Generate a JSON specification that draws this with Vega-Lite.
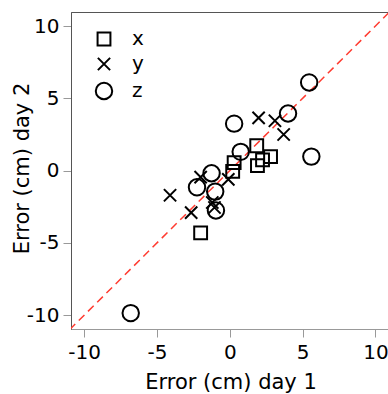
{
  "$schema": "https://vega.github.io/schema/vega-lite/v6.json",
  "autosize": {"type": "none"},
  "padding": {"left": 71, "top": 12, "right": 0, "bottom": 65},
  "width": 319,
  "height": 317,
  "background": "white",
  "config": {
    "font": "DejaVu Sans",
    "view": {"stroke": "#555", "strokeWidth": 1}
  },
  "datasets": {
    "pts": [
      {"axis": "x", "day1": 0.3, "day2": 0.55},
      {"axis": "x", "day1": 0.2, "day2": -0.05},
      {"axis": "x", "day1": 1.85, "day2": 1.72},
      {"axis": "x", "day1": 1.9, "day2": 0.35},
      {"axis": "x", "day1": 2.25, "day2": 0.75},
      {"axis": "x", "day1": 2.8, "day2": 0.97},
      {"axis": "x", "day1": -2.0, "day2": -4.3},
      {"axis": "y", "day1": 1.98, "day2": 3.65},
      {"axis": "y", "day1": 3.1, "day2": 3.45},
      {"axis": "y", "day1": 3.7, "day2": 2.5},
      {"axis": "y", "day1": -2.0, "day2": -0.45},
      {"axis": "y", "day1": -0.1, "day2": -0.6},
      {"axis": "y", "day1": -4.1, "day2": -1.7},
      {"axis": "y", "day1": -2.65, "day2": -2.9},
      {"axis": "y", "day1": -1.2, "day2": -2.2},
      {"axis": "y", "day1": -1.05, "day2": -2.55},
      {"axis": "z", "day1": 5.45, "day2": 6.1},
      {"axis": "z", "day1": 4.0, "day2": 3.95},
      {"axis": "z", "day1": 0.3, "day2": 3.25},
      {"axis": "z", "day1": 5.6, "day2": 0.97},
      {"axis": "z", "day1": 0.75, "day2": 1.3},
      {"axis": "z", "day1": -1.25, "day2": -0.18},
      {"axis": "z", "day1": -2.25, "day2": -1.15},
      {"axis": "z", "day1": -1.0, "day2": -1.45},
      {"axis": "z", "day1": -0.95, "day2": -2.75},
      {"axis": "z", "day1": -6.8, "day2": -9.85}
    ],
    "diag": [
      {"day1": -11, "day2": -11},
      {"day1": 11, "day2": 11}
    ]
  },
  "layer": [
    {
      "data": {"name": "diag"},
      "mark": {"type": "line", "color": "#ff3b30", "strokeWidth": 1.5, "strokeDash": [8, 5], "clip": true},
      "encoding": {
        "x": {"field": "day1", "type": "quantitative"},
        "y": {"field": "day2", "type": "quantitative"}
      }
    },
    {
      "data": {"name": "pts"},
      "mark": {"type": "point", "filled": false, "color": "black", "strokeWidth": 2, "opacity": 1},
      "encoding": {
        "x": {
          "field": "day1", "type": "quantitative",
          "scale": {"domain": [-10.9, 11], "nice": false, "zero": false},
          "axis": {
            "title": "Error (cm) day 1",
            "values": [-10, -5, 0, 5, 10],
            "labelExpr": "datum.value < 0 ? '-' + abs(datum.value) : '' + datum.value",
            "grid": false,
            "domainColor": "#999",
            "tickColor": "#999",
            "tickSize": 8,
            "labelFontSize": 20,
            "labelColor": "black",
            "labelPadding": 5,
            "titleFontSize": 21,
            "titleFontWeight": "normal",
            "titleColor": "black",
            "titleBaseline": "alphabetic",
            "titleY": 59
          }
        },
        "y": {
          "field": "day2", "type": "quantitative",
          "scale": {"domain": [-10.95, 10.97], "nice": false, "zero": false},
          "axis": {
            "title": "Error (cm) day 2",
            "values": [-10, -5, 0, 5, 10],
            "labelExpr": "datum.value < 0 ? '-' + abs(datum.value) : '' + datum.value",
            "grid": false,
            "domainColor": "#555",
            "tickColor": "#999",
            "tickSize": 8,
            "labelFontSize": 20,
            "labelColor": "black",
            "labelPadding": 4,
            "titleFontSize": 21,
            "titleFontWeight": "normal",
            "titleColor": "black",
            "titleBaseline": "alphabetic",
            "titleAngle": 270,
            "titleX": -43,
            "titleY": 156
          }
        },
        "shape": {
          "field": "axis", "type": "nominal",
          "scale": {"domain": ["x", "y", "z"], "range": ["square", "M-1,-1L1,1M-1,1L1,-1", "circle"]},
          "legend": {
            "title": null,
            "orient": "none",
            "legendX": 23,
            "legendY": 17,
            "labelFontSize": 20,
            "labelColor": "black",
            "labelOffset": 18,
            "rowPadding": 3,
            "symbolStrokeWidth": 2,
            "symbolStrokeColor": "black",
            "padding": 0
          }
        },
        "size": {
          "field": "axis", "type": "nominal",
          "scale": {"type": "ordinal", "domain": ["x", "y", "z"], "range": [165, 150, 270]},
          "legend": {
            "title": null,
            "orient": "none",
            "legendX": 23,
            "legendY": 17,
            "labelFontSize": 20,
            "labelColor": "black",
            "labelOffset": 18,
            "rowPadding": 3,
            "symbolStrokeWidth": 2,
            "symbolStrokeColor": "black",
            "padding": 0
          }
        }
      }
    }
  ]
}
